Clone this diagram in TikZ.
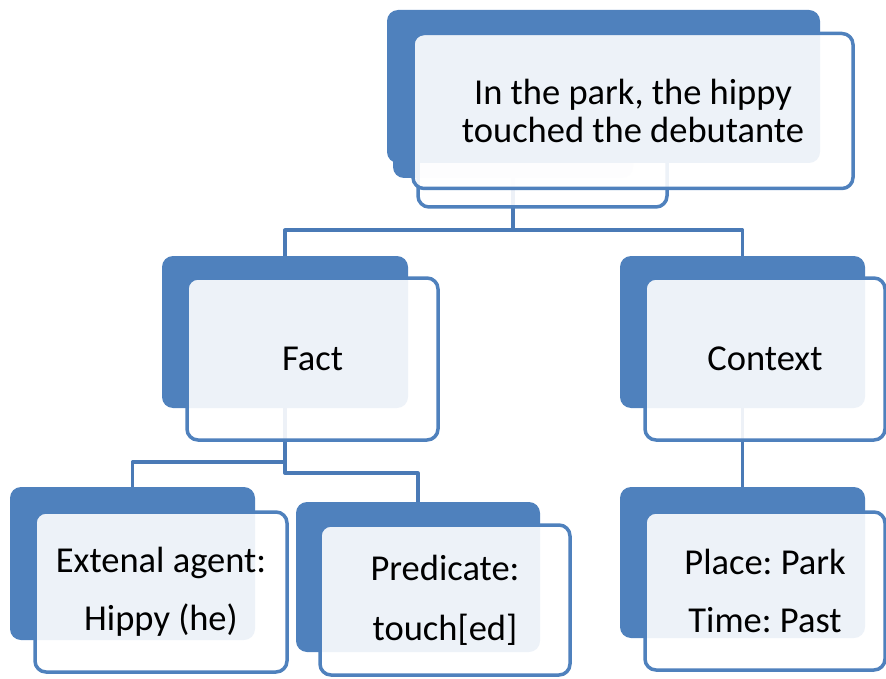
\documentclass[tikz,border=0pt]{standalone}
\usepackage{fontspec}
\setmainfont{Carlito}
\frenchspacing
\definecolor{boxblue}{HTML}{4F81BD}
\definecolor{linkblue}{HTML}{4A7AB6}
\begin{document}
\begin{tikzpicture}[x=1pt,y=-1pt,line join=round,
  back/.style={fill=boxblue,rounded corners=11pt,inner sep=0pt},
  front/.style={draw=boxblue,line width=3.5pt,fill=white,fill opacity=0.9,text opacity=1,
    rounded corners=11pt,inner sep=0pt,align=center,font=\fontsize{36.5}{38}\selectfont},
  link/.style={draw=linkblue,line width=3.5pt}]
\useasboundingbox (0,0) rectangle (886,679);
% back boxes
\node[back,minimum width=240pt,minimum height=152pt] (top2) at (513,102) {};
\node[back,minimum width=246pt,minimum height=152pt] (fact) at (285,332) {};
\node[back,minimum width=245pt,minimum height=152pt] (context) at (742.5,332) {};
\node[back,minimum width=245pt,minimum height=153pt] (agent) at (132.5,563.5) {};
\node[back,minimum width=244pt,minimum height=150pt] (pred) at (418,577) {};
\node[back,minimum width=245pt,minimum height=151pt] (place) at (742.5,562.5) {};
% links
\draw[link] (top2.south) -- ++(0,52) -| (fact.north);
\draw[link] (top2.south) -- ++(0,52) -| (context.north);
\draw[link] (fact.south) -- ++(0,54) -| (agent.north);
\draw[link] (fact.south) -- ++(0,65) -| (pred.north);
\draw[link] (context.south) -- (place.north);
% top sentence
\node[front,minimum width=249pt,minimum height=159pt] (top2f) at (542.5,127.5) {};
\node[back,minimum width=433pt,minimum height=153pt] (top) at (603.5,86.5) {};
\node[front,minimum width=440pt,minimum height=155pt] (topf) at (633,111)
  {In the park, the hippy\\touched the debutante};
% front boxes
\node[front,minimum width=251pt,minimum height=162pt] (factf) at (312.5,359) {Fact};
\node[front,minimum width=240pt,minimum height=162pt] (contextf) at (765,359) {Context};
\node[front,minimum width=252pt,minimum height=160pt] (agentf) at (161,592)
  {Extenal agent:\\[20pt]Hippy (he)};
\node[front,minimum width=250pt,minimum height=150pt] (predf) at (445,600)
  {Predicate:\\[22pt]touch[ed]};
\node[front,minimum width=240pt,minimum height=158pt] (placef) at (765,591)
  {Place: Park\\[20pt]Time: Past};
\end{tikzpicture}
\end{document}
